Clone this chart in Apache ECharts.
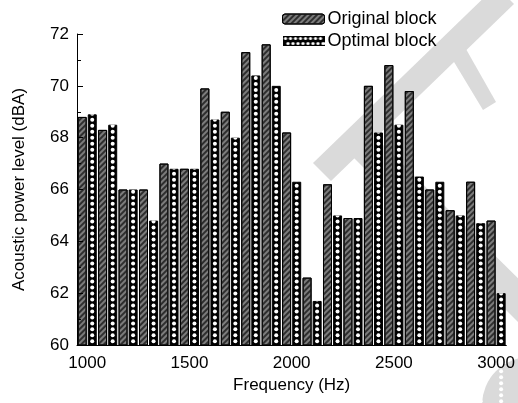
<!DOCTYPE html>
<html>
<head>
<meta charset="utf-8">
<script src="https://cdn.jsdelivr.net/npm/echarts@6/dist/echarts.min.js"></script>
<style>
  html, body { margin: 0; padding: 0; background: #fff; }
  #container { width: 518px; height: 403px; }
</style>
</head>
<body>
<div id="container"></div>
<script>
// data
var frequencies = ['1000', '1100', '1200', '1300', '1400', '1500', '1600', '1700', '1800', '1900', '2000',
    '2100', '2200', '2300', '2400', '2500', '2600', '2700', '2800', '2900', '3000'];
var originalBlock = [68.8, 68.3, 66.0, 66.0, 67.0, 66.8, 69.9, 69.0, 71.3, 71.6, 68.2,
    62.6, 66.2, 64.9, 70.0, 70.8, 69.8, 66.0, 65.2, 66.3, 64.8];
var optimalBlock = [68.9, 68.5, 66.0, 64.8, 66.8, 66.8, 68.7, 68.0, 70.4, 70.0, 66.3,
    61.7, 65.0, 64.9, 68.2, 68.5, 66.5, 66.3, 65.0, 64.7, 62.0];

var font = 'Liberation Sans, Arial, sans-serif';

// little icon for the optimal block legend (black with white dots)
function dotsIcon() {
    var c = document.createElement('canvas');
    c.width = 42; c.height = 10;
    var ctx = c.getContext('2d');
    ctx.fillStyle = '#000';
    ctx.fillRect(0, 0, 42, 10);
    ctx.fillStyle = '#fff';
    for (var x = 3; x < 42; x += 5) {
        for (var y = 2.5; y < 10; y += 5) {
            ctx.beginPath();
            ctx.arc(x + ((y > 5) ? 2.5 : 0), y, 1.6, 0, Math.PI * 2);
            ctx.fill();
        }
    }
    return 'image://' + c.toDataURL();
}

var hatch = {
    symbol: 'rect',
    color: '#2e2e2e',
    dashArrayX: [1, 0],
    dashArrayY: [1.2, 1.6],
    rotation: -Math.PI / 4
};

// grey watermark shapes sitting behind the chart
var wm = '#dadada';
function wmShape(type, shape) {
    return { type: type, shape: shape, style: { fill: wm }, z: -10, zlevel: -1, silent: true };
}

var dom = document.getElementById('container');
var myChart = echarts.init(dom, null, { renderer: 'canvas' });

var option = {
    animation: false,
    textStyle: { fontFamily: font },
    graphic: [
        wmShape('polygon', { points: [[313, 163], [496, -14], [514, 4], [331, 181]] }),
        wmShape('polygon', { points: [[339, 143], [361, 123], [540, 300], [540, 344]] }),
        wmShape('polygon', { points: [[448, 52], [462, 42], [496, 102], [483, 110]] }),
        wmShape('circle', { cx: 530, cy: 405, r: 48 })
    ],
    legend: {
        orient: 'vertical',
        left: 282,
        top: 10,
        padding: 0,
        itemWidth: 42,
        itemHeight: 10,
        itemGap: 4,
        z: 10,
        textStyle: { fontFamily: font, fontSize: 18, color: '#000', padding: [0, 0, 0, -2] },
        data: [
            { name: 'Original block', itemStyle: { borderColor: '#000', borderWidth: 1 } },
            { name: 'Optimal block', icon: dotsIcon() }
        ]
    },
    grid: { left: 77, right: 11, top: 34, bottom: 58 },
    xAxis: {
        type: 'category',
        data: frequencies,
        z: 10,
        name: 'Frequency (Hz)',
        nameLocation: 'middle',
        nameGap: 30,
        nameTextStyle: { fontFamily: font, fontSize: 17, color: '#000' },
        axisLine: { lineStyle: { color: '#000', width: 1 } },
        axisTick: { show: false },
        axisLabel: { interval: 4, fontFamily: font, fontSize: 17, color: '#000', margin: 10 }
    },
    yAxis: {
        type: 'value',
        min: 60,
        max: 72,
        interval: 2,
        z: 10,
        name: 'Acoustic power level (dBA)',
        nameLocation: 'middle',
        nameGap: 49,
        nameTextStyle: { fontFamily: font, fontSize: 17, color: '#000' },
        axisLine: { show: true, lineStyle: { color: '#000', width: 1 } },
        axisTick: { show: true, inside: true, length: 6, lineStyle: { color: '#000' } },
        minorTick: { show: true, splitNumber: 2, length: 4, lineStyle: { color: '#000' } },
        splitLine: { show: false },
        axisLabel: { fontFamily: font, fontSize: 17, color: '#000', margin: 8 }
    },
    series: [
        {
            name: 'Original block',
            type: 'bar',
            data: originalBlock,
            barWidth: 9,
            barGap: '12%',
            z: 5,
            itemStyle: {
                color: '#7c7c7c',
                borderColor: '#000',
                borderWidth: 1,
                decal: hatch
            }
        },
        {
            name: 'Optimal block',
            type: 'bar',
            data: optimalBlock,
            barWidth: 9,
            barGap: '12%',
            z: 5,
            itemStyle: {
                color: '#000',
                borderColor: '#000',
                borderWidth: 1
            }
        },
        {
            // white dots running up each optimal bar
            name: 'dots',
            type: 'pictorialBar',
            data: optimalBlock,
            symbol: 'circle',
            symbolSize: [4, 4],
            symbolRepeat: true,
            symbolMargin: 1,
            symbolClip: true,
            symbolOffset: [5, 0],
            itemStyle: { color: '#fff' },
            z: 6,
            silent: true
        }
    ]
};

myChart.setOption(option);
window.addEventListener('resize', myChart.resize);
</script>
</body>
</html>
